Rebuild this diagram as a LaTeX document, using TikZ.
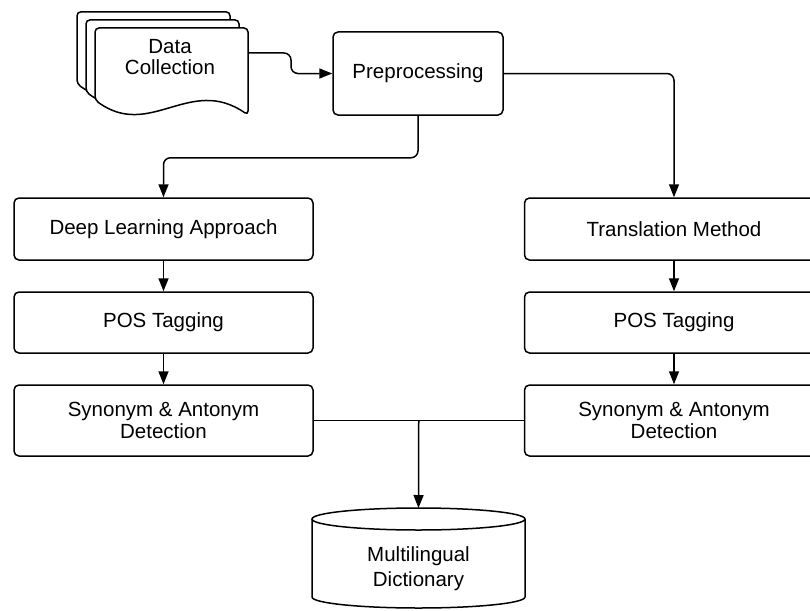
\documentclass[tikz,border=0pt]{standalone}
\usepackage{fontspec}
\setmainfont{Liberation Sans}
\usetikzlibrary{arrows.meta}

\begin{document}
\begin{tikzpicture}[x=1pt, y=-1pt, >={Triangle[length=13pt, width=10pt]},
  box/.style={draw, line width=1.5pt, rounded corners=5pt, fill=white, align=center,
    font=\fontsize{20.5}{22}\selectfont, minimum width=299pt, inner sep=0pt},
  flow/.style={->, line width=1.5pt, rounded corners=7pt},
  page/.style={draw, line width=1.5pt, fill=white, rounded corners=4pt}]
  \useasboundingbox (0,0) rectangle (810,610);
  \clip (0,0) rectangle (810,610);

  % Stack of documents
  \foreach \d in {18,9,0} {
    \begin{scope}[shift={(-\d,{-0.9*\d})}]
      \draw[page] (95,100) -- (95,28) -- (248,28) -- (248,115)
        .. controls (190,75) and (150,140) .. cycle;
    \end{scope}
  }
  \node[align=center, font=\fontsize{20.5}{21}\selectfont] (data) at (170,57) {Data\\Collection};
  \coordinate (dataR) at (248,53);

  % Preprocessing
  \node[box, minimum width=170pt, minimum height=83pt] (pre) at (418,73.5) {Preprocessing};

  % Left branch
  \node[box, minimum height=62pt] (deep) at (163.5,229) {Deep Learning Approach};
  \node[box, minimum height=61pt] (posl) at (163.5,322.5) {POS Tagging};
  \node[box, minimum height=71pt] (synl) at (163.5,420.5) {Synonym \& Antonym\\Detection};

  % Right branch
  \node[box, minimum height=62pt] (trans) at (674,229) {Translation Method};
  \node[box, minimum height=61pt] (posr) at (674,322.5) {POS Tagging};
  \node[box, minimum height=71pt] (synr) at (674,420.5) {Synonym \& Antonym\\Detection};

  % Dictionary (cylinder)
  \draw[line width=1.5pt, fill=white] (312,519) -- (312,597)
    arc[start angle=180, end angle=360, x radius=106.5pt, y radius=11pt] -- (525,519);
  \draw[line width=1.5pt] (418.5,519) ellipse [x radius=106.5pt, y radius=11pt];
  \node[align=center, font=\fontsize{20.5}{25}\selectfont] (dict) at (418.5,569) {Multilingual\\Dictionary};
  \coordinate (dictTop) at (418.5,508);

  % Connectors
  \draw[flow] (dataR) -- ++(43,0) |- (pre.west);
  \draw[flow] (pre.south) -- ++(0,42) -| (deep.north);
  \draw[flow] (pre.east) -| (trans.north);
  \draw[flow] (deep) -- (posl);
  \draw[flow] (posl) -- (synl);
  \draw[flow] (trans) -- (posr);
  \draw[flow] (posr) -- (synr);
  \draw[line width=1.5pt] (synl.east) -- (synr.west) coordinate[midway] (join);
  \draw[flow] (join) -- (dictTop);
\end{tikzpicture}
\end{document}
